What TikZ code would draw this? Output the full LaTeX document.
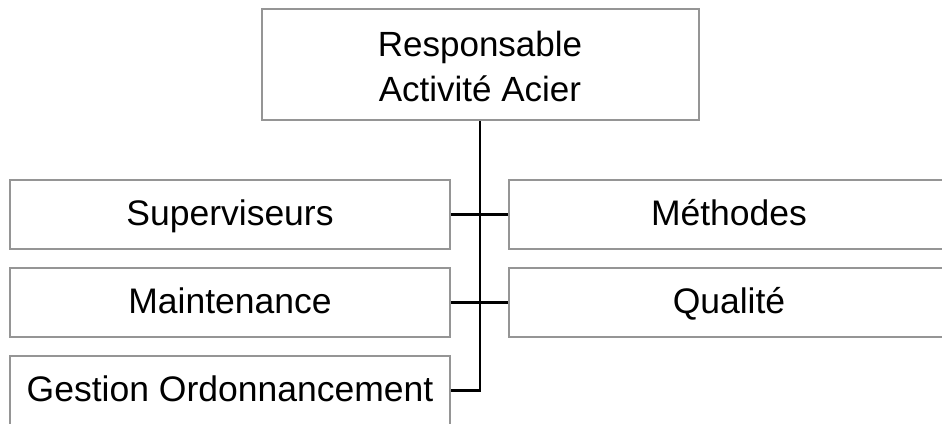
\documentclass[tikz,border=0pt]{standalone}
\usepackage{fontspec}
\setmainfont{Liberation Sans}
\definecolor{boxgray}{HTML}{959595}
\tikzset{
  orgbox/.style={draw=boxgray, line width=2pt, fill=white, inner sep=0pt,
    minimum width=440pt, minimum height=69pt, align=center,
    font=\fontsize{35.5}{45}\selectfont},
  onebox/.style={orgbox, text height=25pt, text depth=4pt},
  link/.style={draw=black, line width=2.4pt}
}
\begin{document}
\begin{tikzpicture}[x=1pt,y=1pt]
\clip (0,0) rectangle (942,-423);
\fill[white] (0,0) rectangle (942,-423);
\node[orgbox, minimum width=437pt, minimum height=111pt, font=\fontsize{35}{45}\selectfont,
  text height=80pt, text depth=5.6pt] (top) at (480,-64.5) {Responsable\\Activité Acier};
\node[onebox] (sup) at (230,-214.5) {Superviseurs};
\node[onebox] (met) at (729,-214.5) {Méthodes};
\node[onebox] (mai) at (230,-302.5) {Maintenance};
\node[onebox] (qua) at (729,-302.5) {Qualité};
\node[onebox] (ges) at (230,-390.5) {Gestion Ordonnancement};
\draw[link] (top.south) -- (top.south |- ges.east) -- (ges.east);
\draw[link] (sup.east) -- (met.west);
\draw[link] (mai.east) -- (qua.west);
\end{tikzpicture}
\end{document}
